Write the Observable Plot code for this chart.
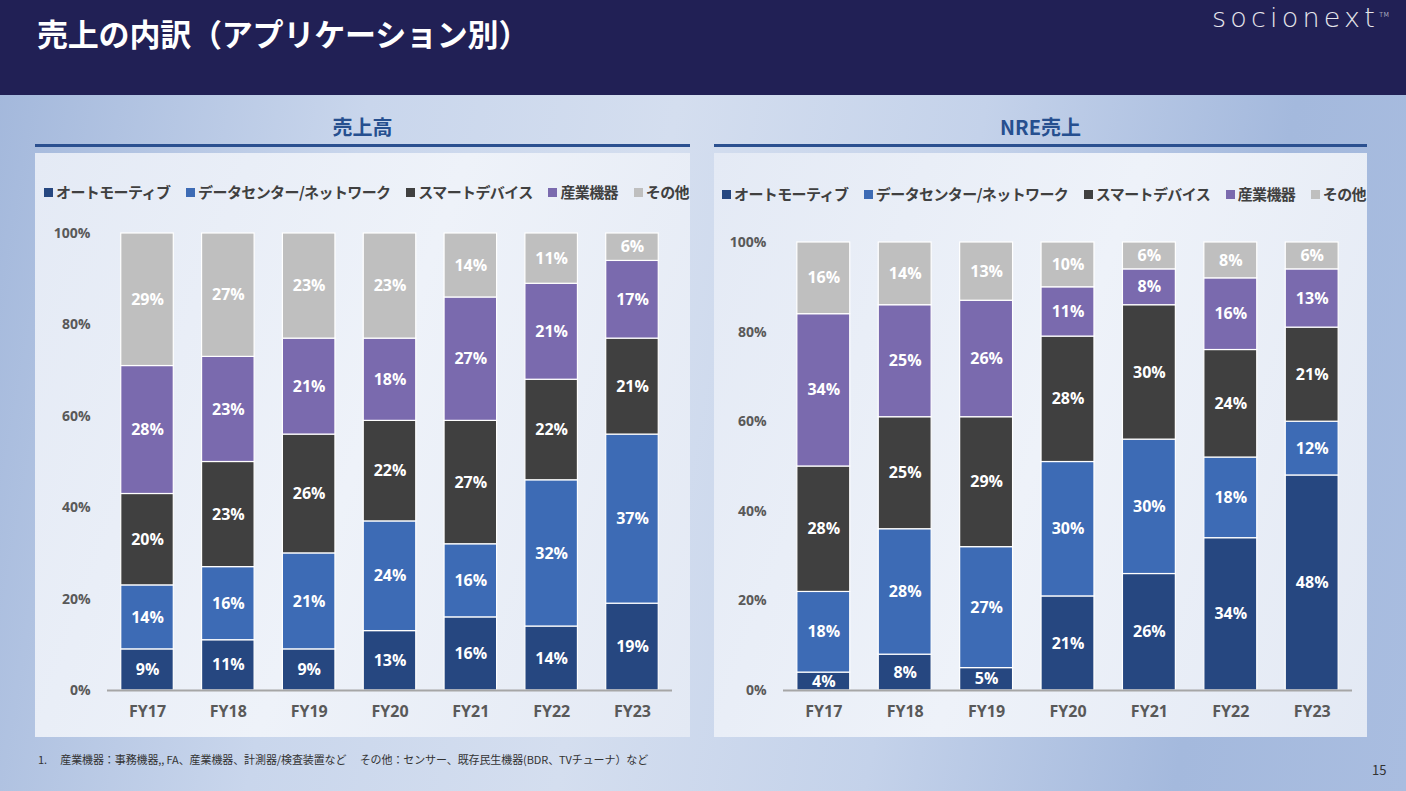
<!DOCTYPE html>
<html><head><meta charset="utf-8">
<script src="https://cdn.jsdelivr.net/npm/d3@7"></script>
<script src="https://cdn.jsdelivr.net/npm/@observablehq/plot@0.6"></script>
<style>
html,body{margin:0;padding:0;}
body{width:1406px;height:791px;overflow:hidden;position:relative;font-family:"Noto Sans CJK JP","Noto Sans",sans-serif;
 background:linear-gradient(100deg,#a2b7db 0%,#c9d6ec 25%,#d4deef 45%,#c4d2ea 65%,#a4b9dd 85%,#a9bde0 100%);}
#header{position:absolute;left:0;top:0;width:1406px;height:95px;background:#212055;}
#title{position:absolute;left:37px;top:10px;color:#fff;font-size:31px;font-weight:700;letter-spacing:-0.2px;}
#logo{position:absolute;left:1212px;top:2px;color:#e6e6ec;font-family:"DejaVu Sans","Noto Sans",sans-serif;font-size:27px;font-weight:300;letter-spacing:4.2px;}
#logo sup{font-size:7px;letter-spacing:0;vertical-align:top;position:relative;top:9px;}
.sect{position:absolute;top:112px;width:655px;text-align:center;color:#264f8f;font-size:20px;font-weight:700;}
.uline{position:absolute;top:144px;height:3px;background:#2b5090;}
.panel{position:absolute;top:153px;height:584px;background:linear-gradient(110deg,#e4eaf5 0%,#eef2f9 50%,#e3e9f4 100%);}
.legend{position:absolute;top:181px;display:flex;justify-content:space-between;align-items:center;font-size:15px;font-weight:700;color:#404040;white-space:nowrap;letter-spacing:-0.6px;}
.legend span.sw{display:inline-block;width:9px;height:9px;margin-right:3px;vertical-align:middle;position:relative;top:-1px;}
.chart{position:absolute;top:215px;}
#foot{position:absolute;left:38px;top:751px;font-size:11px;color:#333;letter-spacing:-0.1px;}
#page{position:absolute;left:1372px;top:760px;font-size:13px;color:#333;}
</style></head>
<body>
<div id="header"></div>
<div id="title">売上の内訳（アプリケーション別）</div>
<div id="logo">socionext<sup>TM</sup></div>
<div class="sect" style="left:35px">売上高</div>
<div class="sect" style="left:714px;width:653px">NRE売上</div>
<div class="uline" style="left:35px;width:655px"></div>
<div class="uline" style="left:714px;width:653px"></div>
<div class="panel" style="left:35px;width:655px"></div>
<div class="panel" style="left:714px;width:653px"></div>
<div class="legend" id="legL" style="left:44px;width:645px"></div>
<div class="legend" id="legR" style="left:722px;width:644px;top:183px"></div>
<div class="chart" id="chartL" style="left:35px"></div>
<div class="chart" id="chartR" style="left:714px"></div>
<div id="foot">1.　 産業機器：事務機器,, FA、産業機器、計測器/検査装置など　 その他：センサー、既存民生機器(BDR、TVチューナ）など</div>
<div id="page">15</div>
<script>
const years = ["FY17","FY18","FY19","FY20","FY21","FY22","FY23"];
const segments = ["オートモーティブ","データセンター/ネットワーク","スマートデバイス","産業機器","その他"];
const colors = ["#264780","#3d6bb5","#404040","#7a6aae","#bfbfbf"];
const yTicks = [0,20,40,60,80,100];

// 売上高 (% by segment, per year)
const salesAuto   = [9,11,9,13,16,14,19];
const salesDC     = [14,16,21,24,16,32,37];
const salesSmart  = [20,23,26,22,27,22,21];
const salesInd    = [28,23,21,18,27,21,17];
const salesOther  = [29,27,23,23,14,11,6];

// NRE売上
const nreAuto   = [4,8,5,21,26,34,48];
const nreDC     = [18,28,27,30,30,18,12];
const nreSmart  = [28,25,29,28,30,24,21];
const nreInd    = [34,25,26,11,8,16,13];
const nreOther  = [16,14,13,10,6,8,6];

function toRows(series){
  const rows=[];
  years.forEach((y,i)=>{
    series.forEach((s,k)=>rows.push({year:y,seg:segments[k],order:k,value:s[i]}));
  });
  return rows;
}

function legend(el){
  const d=document.getElementById(el);
  segments.forEach((s,k)=>{
    const it=document.createElement("span");
    it.innerHTML=`<span class="sw" style="background:${colors[k]}"></span>${s}`;
    d.appendChild(it);
  });
}
legend("legL"); legend("legR");

function chart(el, series, opts){
  const rows=toRows(series);
  const p=Plot.plot({
    width:opts.width, height:510,
    marginLeft:opts.ml, marginRight:opts.mr, marginTop:opts.mt, marginBottom:35,
    style:{background:"transparent",fontFamily:"'Open Sans','Noto Sans',sans-serif",overflow:"visible"},
    x:{domain:years,paddingInner:0.35,paddingOuter:0.17,round:false,axis:null},
    y:{domain:[0,100],axis:null},
    color:{domain:segments,range:colors},
    marks:[
      Plot.axisX({label:null,tickSize:0,tickPadding:15,fontSize:16,fontWeight:"bold",fill:"#595959"}),
      Plot.axisY({ticks:yTicks,tickFormat:d=>d+"%",label:null,tickSize:0,tickPadding:17,fontSize:14,fontWeight:"bold",fill:"#595959"}),
      Plot.barY(rows,Plot.stackY({x:"year",y:"value",fill:"seg",order:"order",stroke:"white",strokeWidth:1.2})),
      Plot.text(rows,Plot.stackY({x:"year",y:"value",order:"order",text:d=>d.value+"%",fill:"white",fontSize:16,fontWeight:"bold"})),
      Plot.ruleY([0],{stroke:"#a6a6a6",strokeWidth:2}),
    ]
  });
  document.getElementById(el).appendChild(p);
}

chart("chartL",[salesAuto,salesDC,salesSmart,salesInd,salesOther],{width:655,ml:72,mr:18,mt:18});
chart("chartR",[nreAuto,nreDC,nreSmart,nreInd,nreOther],{width:653,ml:69,mr:15,mt:27});
</script>
</body></html>
